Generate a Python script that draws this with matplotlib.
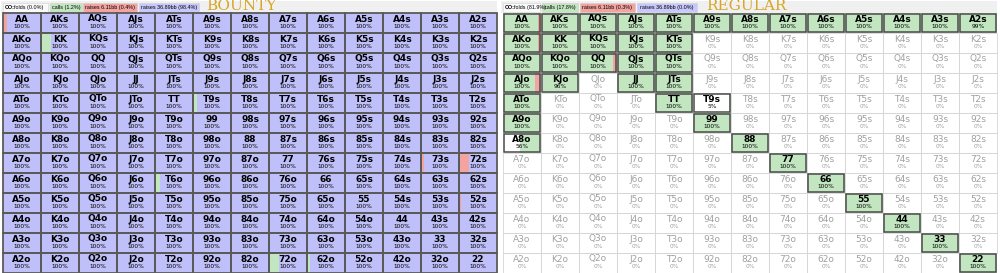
import numpy as np
import matplotlib.pyplot as plt
from matplotlib.patches import Rectangle

ranks = list("AKQJT98765432")

# header legends
left_header = ["folds (0.0%)", "calls (1.2%)", "raises 6.11bb (0.4%)", "raises 36.89bb (98.4%)"]
right_header = ["folds (81.9%)", "calls (17.8%)", "raises 6.11bb (0.3%)", "raises 36.89bb (0.0%)"]
left_title = "BOUNTY"
right_title = "REGULAR"

# left grid: share of each hand (percent of hand)
left_pct = np.full((13, 13), 100.0)
left_call = np.zeros((13, 13))
left_small = np.zeros((13, 13))
for (r, c), v in {(1, 1): 27, (2, 2): 3, (4, 5): 10, (8, 4): 12, (9, 8): 2,
                  (12, 7): 27, (12, 8): 7, (10, 1): 2, (6, 12): 2}.items():
    left_call[r, c] = v
for (r, c), v in {(0, 0): 10, (6, 7): 3, (7, 9): 3, (7, 11): 7, (7, 12): 25,
                  (9, 12): 6, (10, 11): 2, (2, 9): 3}.items():
    left_small[r, c] = v

# right grid
right_pct = np.zeros((13, 13))
right_pct[0, :] = 100
right_pct[0, 12] = 99
right_pct[1, :5] = 100
right_pct[2, :5] = 100
right_pct[3, [0, 3, 4]] = 100
right_pct[3, 1] = 96
right_pct[4, [0, 4]] = 100
right_pct[4, 5] = 5
right_pct[5, [0, 5]] = 100
right_pct[6, 0] = 56
for k in range(6, 13):
    right_pct[k, k] = 100
right_small = np.zeros((13, 13))
for (r, c), v in {(0, 0): 7, (1, 0): 8, (2, 2): 10, (3, 0): 15}.items():
    right_small[r, c] = v
right_call = right_pct - right_small

GREEN = "#c2e6c0"
RED = "#f3a3a0"
BLUE = "#bfbff9"
GOLD = "#d8a526"


def hand(r, c):
    if r == c:
        return ranks[r] + ranks[c]
    if r < c:
        return ranks[r] + ranks[c] + "s"
    return ranks[c] + ranks[r] + "o"


fig = plt.figure(figsize=(10, 2.73), dpi=100)
ax = fig.add_axes([0, 0, 1, 1])
ax.set_xlim(0, 1000)
ax.set_ylim(273, 0)
ax.axis("off")

CW, CH, Y0 = 38.0, 20.0, 13.0
HF = "Liberation Sans"


def header(x0, texts, title, boxes):
    ax.add_patch(Rectangle((x0 - 2, 1), 496, 11.5, fc="#f0f0f0", ec="none"))
    cols = ["#fafafa", GREEN, RED, "#c8c8fc"]
    for i, (t, (bx, bw)) in enumerate(zip(texts, boxes)):
        ax.add_patch(Rectangle((x0 + bx, 2.5), bw, 9, fc=cols[i], ec="#d0d0d0", lw=0.4))
        if i == 0:
            ax.text(x0 + bx + 1.5, 7.2, "CO:", fontsize=3.9, family=HF, weight="bold", va="center")
            ax.text(x0 + bx + 11.5, 7.2, t, fontsize=3.9, family=HF, va="center")
        else:
            ax.text(x0 + bx + bw / 2, 7.2, t, fontsize=3.9, family=HF, va="center", ha="center")
    ax.text(x0 + 203, 6.5, title, fontsize=11, family="DejaVu Serif",
            color=GOLD, va="center", ha="left")


def panel(x0, pct, call, small, regular):
    for r in range(13):
        for c in range(13):
            x = x0 + c * CW
            y = Y0 + r * CH
            p = pct[r, c]
            parts = [(100 - p, "white"), (call[r, c], GREEN), (small[r, c], RED),
                     (p - call[r, c] - small[r, c], BLUE)]
            left = x
            for w, col in parts:
                if w > 0:
                    ax.add_patch(Rectangle((left, y), CW * w / 100, CH, fc=col, ec="none"))
                    left += CW * w / 100
            played = p > 0
            if regular:
                if played:
                    ax.add_patch(Rectangle((x + 0.8, y + 0.8), CW - 1.6, CH - 1.6,
                                           fc="none", ec="#4a4a4a", lw=1.1, zorder=3))
                else:
                    ax.add_patch(Rectangle((x, y), CW, CH, fc="none", ec="#d6d6d6",
                                           lw=0.6, zorder=2))
            else:
                ax.add_patch(Rectangle((x, y), CW, CH, fc="none", ec="#5a5a5a",
                                       lw=1.3, zorder=3))
            tc = "black" if played else "#a0a0a0"
            wt = "bold" if played else "normal"
            ax.text(x + CW / 2, y + 6, hand(r, c), fontsize=6.5, weight=wt, color=tc,
                    ha="center", va="center", zorder=4)
            ax.text(x + CW / 2, y + 14, "%d%%" % p, fontsize=4.2, color=tc,
                    ha="center", va="center", zorder=4)


header(3, left_header, left_title, [(0, 45), (47, 32), (80, 54), (136, 60)])
header(503, right_header, right_title, [(0, 37), (39, 36), (77, 55), (134, 60)])
panel(3, left_pct, left_call, left_small, False)
panel(503, right_pct, right_call, right_small, True)

fig.savefig("out.png", dpi=100)
